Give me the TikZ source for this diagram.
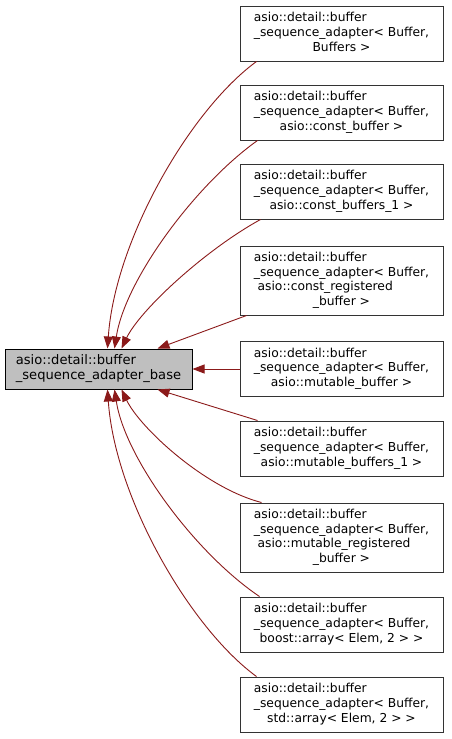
\documentclass[tikz,border=0pt]{standalone}
\usepackage{fontspec}
\setmainfont{DejaVu Sans}
\usetikzlibrary{arrows.meta}
\definecolor{edgecol}{HTML}{8B1A1A}
\definecolor{basefill}{HTML}{BFBFBF}
\newcommand{\tl}[3]{\begin{tabular}{@{}l@{}}#1\\#2\\\multicolumn{1}{@{}c@{}}{#3}\end{tabular}}
\newcommand{\fl}[4]{\begin{tabular}{@{}l@{}}#1\\#2\\#3\\\multicolumn{1}{@{}c@{}}{#4}\end{tabular}}
\newcommand{\hd}{asio::detail::buffer}
\newcommand{\sq}{\_sequence\_adapter< Buffer,}
\tikzset{
  cls/.style={draw=black!80, line width=1pt, fill=white, inner sep=0pt, minimum width=203pt, minimum height=55pt,
     font=\fontsize{12.3}{14.6}\selectfont},
  tall/.style={cls, minimum height=69pt},
  basecls/.style={draw=black, line width=1pt, fill=basefill, inner sep=0pt, minimum width=187pt, minimum height=40pt,
     font=\fontsize{13.1}{14.6}\selectfont},
  edge/.style={draw=edgecol, line width=0.9pt, {Triangle[length=12pt,width=9pt]}-}
}
\begin{document}
\begin{tikzpicture}[x=1pt,y=-1pt]
\useasboundingbox (0,0) rectangle (452,739);
\node[basecls] (base) at (98.5,369) {\begin{tabular}{@{}l@{}}asio::detail::buffer\\\_sequence\_adapter\_base\end{tabular}};
\node[cls]  (n1) at (341.5,33.5)  {\tl{\hd}{\sq}{Buffers >}};
\node[cls]  (n2) at (341.5,112.5) {\tl{\hd}{\sq}{asio::const\_buffer >}};
\node[cls]  (n3) at (341.5,191.5) {\tl{\hd}{\sq}{asio::const\_buffers\_1 >}};
\node[tall] (n4) at (341.5,280.5) {\fl{\hd}{\sq}{\hspace*{0.3em}asio::const\_registered}{\_buffer >}};
\node[cls]  (n5) at (341.5,369)   {\tl{\hd}{\sq}{asio::mutable\_buffer >}};
\node[cls]  (n6) at (341.5,448.5) {\tl{\hd}{\sq}{asio::mutable\_buffers\_1 >}};
\node[tall] (n7) at (341.5,537.5) {\fl{\hd}{\sq}{\hspace*{0.3em}asio::mutable\_registered}{\_buffer >}};
\node[cls]  (n8) at (341.5,624.5) {\tl{\hd}{\sq}{boost::array< Elem, 2 > >}};
\node[cls]  (n9) at (341.5,704.5) {\tl{\hd}{\sq}{std::array< Elem, 2 > >}};

\draw[edge] ([xshift=9pt]base.north) .. controls (115,240) and (190,110) .. ([xshift=17pt]n1.south west);
\draw[edge] ([xshift=16pt]base.north) .. controls (125,280) and (195,185) .. ([xshift=18pt]n2.south west);
\draw[edge] ([xshift=23pt]base.north) .. controls (140,310) and (205,250) .. ([xshift=21pt]n3.south west);
\draw[edge] ([xshift=59pt]base.north) -- ([xshift=7pt]n4.south west);
\draw[edge] (base.east) -- (n5.west);
\draw[edge] ([xshift=59pt]base.south) -- ([xshift=18pt]n6.north west);
\draw[edge] ([xshift=23pt]base.south) .. controls (140,428) and (205,488) .. ([xshift=22pt]n7.north west);
\draw[edge] ([xshift=16pt]base.south) .. controls (125,458) and (195,553) .. ([xshift=20pt]n8.north west);
\draw[edge] ([xshift=9pt]base.south) .. controls (115,498) and (190,628) .. ([xshift=17pt]n9.north west);
\end{tikzpicture}
\end{document}
